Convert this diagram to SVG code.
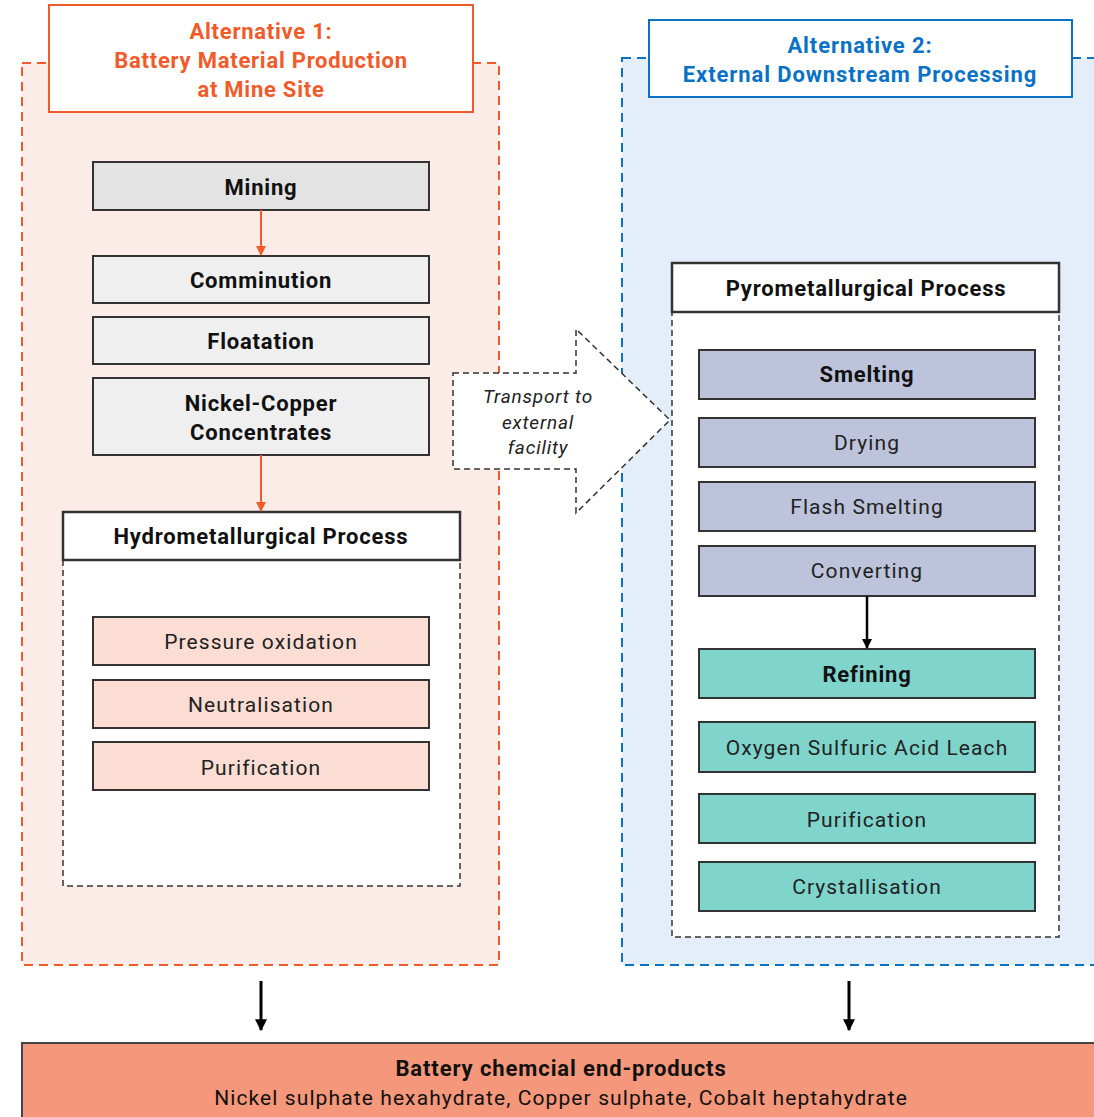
<svg xmlns="http://www.w3.org/2000/svg" width="1094" height="1117" viewBox="0 0 1094 1117">
<defs>
<style>
text{font-family:Roboto,"Liberation Sans",sans-serif;text-anchor:middle;}
.b{font-weight:bold;font-size:22px;fill:#111;letter-spacing:0.8px;}
.r{font-size:21px;fill:#222;letter-spacing:1.1px;}
.t1{font-weight:bold;font-size:22px;fill:#F15A29;letter-spacing:0.75px;}
.t2{font-weight:bold;font-size:22px;fill:#0A72C4;letter-spacing:0.9px;}
.it{font-size:19px;font-style:italic;fill:#222;letter-spacing:0.8px;}
.box{stroke:#333;stroke-width:2;}
.hdr{fill:#fff;stroke:#333;stroke-width:2.5;}
.inner{fill:#fff;stroke:#333;stroke-width:1.5;stroke-dasharray:6 4;}
</style>
<marker id="ao" viewBox="0 0 10 10" refX="9" refY="5" markerWidth="5" markerHeight="5" orient="auto"><path d="M0,0L10,5L0,10z" fill="#F15A29"/></marker>
<marker id="ak" viewBox="0 0 10 10" refX="9" refY="5" markerWidth="4" markerHeight="4" orient="auto"><path d="M0,0L10,5L0,10z" fill="#000"/></marker>
</defs>

<g id="alt1">
<rect x="22" y="63" width="477" height="902" fill="#FCECE7" stroke="#F15A29" stroke-width="2" stroke-dasharray="9 6"/>
<rect x="49" y="5" width="424" height="107" fill="#fff" stroke="#F15A29" stroke-width="2"/>
<text class="t1" x="261" y="39">Alternative 1:</text>
<text class="t1" x="261" y="68">Battery Material Production</text>
<text class="t1" x="261" y="97">at Mine Site</text>
</g>

<g id="alt2">
<rect x="622" y="58" width="490" height="907" fill="#E4EEF8" stroke="#0A72C4" stroke-width="2" stroke-dasharray="9 6"/>
<rect x="649" y="20" width="423" height="77" fill="#fff" stroke="#0A72C4" stroke-width="2"/>
<text class="t2" x="860" y="53">Alternative 2:</text>
<text class="t2" x="860" y="82">External Downstream Processing</text>
</g>

<g id="mining"><rect class="box" x="93" y="162" width="336" height="48" fill="#E3E3E3"/><text class="b" x="261" y="195">Mining</text></g>
<g id="comminution"><rect class="box" x="93" y="256" width="336" height="47" fill="#EFEFEF"/><text class="b" x="261" y="288">Comminution</text></g>
<g id="floatation"><rect class="box" x="93" y="317" width="336" height="47" fill="#EFEFEF"/><text class="b" x="261" y="349">Floatation</text></g>
<g id="concentrates"><rect class="box" x="93" y="378" width="336" height="77" fill="#EFEFEF"/><text class="b" x="261" y="411">Nickel-Copper</text><text class="b" x="261" y="440">Concentrates</text></g>

<g id="hydro">
<rect class="inner" x="63" y="560" width="397" height="326"/>
<rect class="hdr" x="63" y="512" width="397" height="48"/>
<text class="b" x="261" y="544">Hydrometallurgical Process</text>
</g>
<g id="pox"><rect class="box" x="93" y="617" width="336" height="48" fill="#FBDDD3"/><text class="r" x="261" y="649">Pressure oxidation</text></g>
<g id="neut"><rect class="box" x="93" y="680" width="336" height="48" fill="#FBDDD3"/><text class="r" x="261" y="712">Neutralisation</text></g>
<g id="purif1"><rect class="box" x="93" y="742" width="336" height="48" fill="#FBDDD3"/><text class="r" x="261" y="775">Purification</text></g>

<g id="transport">
<path d="M453,373H576V329L670,420L576,513V469H453Z" fill="#fff" stroke="#333" stroke-width="1.5" stroke-dasharray="6 4"/>
<text class="it" x="538" y="403">Transport to</text>
<text class="it" x="538" y="429">external</text>
<text class="it" x="538" y="454">facility</text>
</g>

<g id="pyro">
<rect class="inner" x="672" y="312" width="387" height="625"/>
<rect class="hdr" x="672" y="263" width="387" height="49"/>
<text class="b" x="866" y="296">Pyrometallurgical Process</text>
</g>
<g id="smelting"><rect class="box" x="699" y="350" width="336" height="49" fill="#BCC3DA"/><text class="b" x="867" y="382">Smelting</text></g>
<g id="drying"><rect class="box" x="699" y="418" width="336" height="49" fill="#BCC3DA"/><text class="r" x="867" y="450">Drying</text></g>
<g id="flash"><rect class="box" x="699" y="482" width="336" height="49" fill="#BCC3DA"/><text class="r" x="867" y="514">Flash Smelting</text></g>
<g id="converting"><rect class="box" x="699" y="546" width="336" height="50" fill="#BCC3DA"/><text class="r" x="867" y="578">Converting</text></g>
<g id="refining"><rect class="box" x="699" y="649" width="336" height="49" fill="#7FD4CB"/><text class="b" x="867" y="682">Refining</text></g>
<g id="leach"><rect class="box" x="699" y="722" width="336" height="50" fill="#7FD4CB"/><text class="r" x="867" y="755">Oxygen Sulfuric Acid Leach</text></g>
<g id="purif2"><rect class="box" x="699" y="794" width="336" height="49" fill="#7FD4CB"/><text class="r" x="867" y="827">Purification</text></g>
<g id="cryst"><rect class="box" x="699" y="862" width="336" height="49" fill="#7FD4CB"/><text class="r" x="867" y="894">Crystallisation</text></g>

<g id="endproducts">
<rect x="22" y="1043" width="1090" height="90" fill="#F4977A" stroke="#444" stroke-width="2"/>
<text x="561" y="1076" font-weight="bold" font-size="22" fill="#111" letter-spacing="0.9">Battery chemcial end-products</text>
<text x="561" y="1105" font-size="21" fill="#111" letter-spacing="1.1">Nickel sulphate hexahydrate, Copper sulphate, Cobalt heptahydrate</text>
</g>

<g id="connectors" fill="none">
<line x1="261" y1="210" x2="261" y2="255" stroke="#F15A29" stroke-width="2" marker-end="url(#ao)"/>
<line x1="261" y1="455" x2="261" y2="511" stroke="#F15A29" stroke-width="2" marker-end="url(#ao)"/>
<line x1="867" y1="596" x2="867" y2="648" stroke="#000" stroke-width="2.5" marker-end="url(#ak)"/>
<line x1="261" y1="981" x2="261" y2="1030" stroke="#000" stroke-width="3" marker-end="url(#ak)"/>
<line x1="849" y1="981" x2="849" y2="1030" stroke="#000" stroke-width="3" marker-end="url(#ak)"/>
</g>
</svg>
